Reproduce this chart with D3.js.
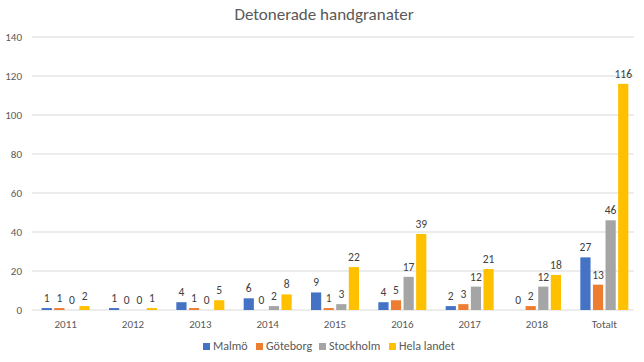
<!DOCTYPE html>
<html>
<head>
<meta charset="utf-8">
<script src="https://cdn.jsdelivr.net/npm/d3@7"></script>
<style>
  body { margin: 0; background: #fff; }
  svg { font-family: Calibri, Carlito, "Open Sans", sans-serif; }
</style>
</head>
<body>
<svg id="chart" width="644" height="362"></svg>
<script>
const categories = ["2011", "2012", "2013", "2014", "2015", "2016", "2017", "2018", "Totalt"];
const seriesNames = ["Malmö", "Göteborg", "Stockholm", "Hela landet"];
const malmo = [1, 1, 4, 6, 9, 4, 2, 0, 27];
const goteborg = [1, 0, 1, 0, 1, 5, 3, 2, 13];
const stockholm = [0, 0, 0, 2, 3, 17, 12, 12, 46];
const helaLandet = [2, 1, 5, 8, 22, 39, 21, 18, 116];
const yTicks = [0, 20, 40, 60, 80, 100, 120, 140];

const colors = ["#4472c4", "#ed7d31", "#a5a5a5", "#ffc000"];
const values = [malmo, goteborg, stockholm, helaLandet];

const svg = d3.select("#chart");
const plotLeft = 32, plotRight = 638, plotTop = 37, plotBottom = 310;
const groupW = 48;

const x = d3.scaleBand().domain(categories).range([plotLeft, plotRight]);
const xs = d3.scaleBand().domain(seriesNames).range([0, groupW]).paddingInner(0.19);
const y = d3.scaleLinear().domain([0, 140]).range([plotBottom, plotTop]);

svg.append("text")
  .attr("x", 324).attr("y", 20)
  .attr("text-anchor", "middle")
  .attr("font-size", 17)
  .attr("fill", "#595959")
  .text("Detonerade handgranater");

// grid
svg.append("g")
  .selectAll("line")
  .data(yTicks)
  .join("line")
  .attr("x1", plotLeft).attr("x2", 634)
  .attr("y1", d => y(d)).attr("y2", d => y(d))
  .attr("stroke", "#d9d9d9");

svg.append("g")
  .selectAll("text")
  .data(yTicks)
  .join("text")
  .attr("x", 22).attr("y", d => y(d) + 4)
  .attr("text-anchor", "end")
  .attr("font-size", 11)
  .attr("fill", "#595959")
  .text(d => d);

const groups = svg.append("g")
  .selectAll("g")
  .data(categories)
  .join("g")
  .attr("transform", c => `translate(${x(c) + (x.bandwidth() - groupW) / 2},0)`);

groups.each(function(c, i) {
  const g = d3.select(this);
  seriesNames.forEach((s, j) => {
    const v = values[j][i];
    g.append("rect")
      .attr("x", xs(s))
      .attr("width", xs.bandwidth())
      .attr("y", y(v))
      .attr("height", plotBottom - y(v))
      .attr("fill", colors[j]);
    g.append("text")
      .attr("x", xs(s) + xs.bandwidth() / 2)
      .attr("y", y(v) - 6)
      .attr("text-anchor", "middle")
      .attr("font-size", 11.5)
      .attr("fill", "#404040")
      .text(v);
  });
});

svg.append("g")
  .selectAll("text")
  .data(categories)
  .join("text")
  .attr("x", c => x(c) + x.bandwidth() / 2)
  .attr("y", 328)
  .attr("text-anchor", "middle")
  .attr("font-size", 11)
  .attr("fill", "#595959")
  .text(c => c);

// legend
const legendX = [203, 256, 319, 389];
const legend = svg.append("g")
  .selectAll("g")
  .data(seriesNames)
  .join("g")
  .attr("transform", (d, i) => `translate(${legendX[i]},348)`);
legend.append("rect")
  .attr("x", 0).attr("y", -5)
  .attr("width", 7).attr("height", 7)
  .attr("fill", (d, i) => colors[i]);
legend.append("text")
  .attr("x", 10).attr("y", 2)
  .attr("font-size", 12)
  .attr("fill", "#595959")
  .text(d => d);
</script>
</body>
</html>
